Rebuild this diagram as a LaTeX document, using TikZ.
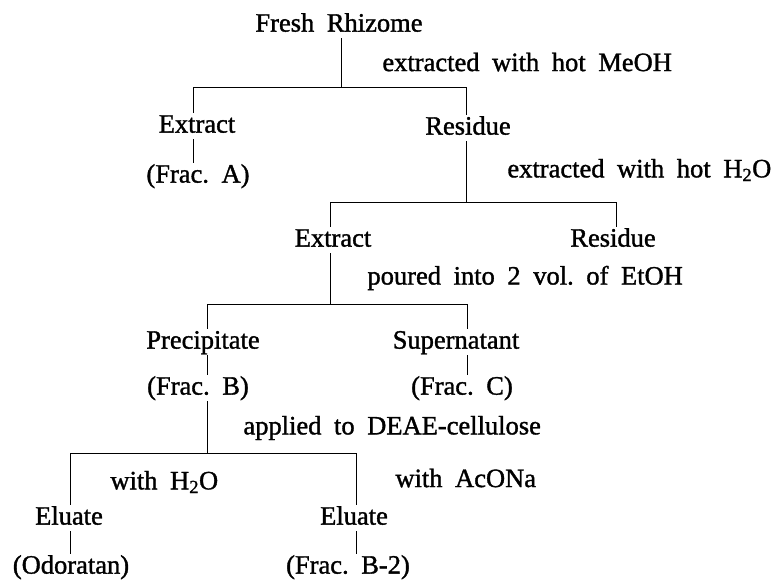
\documentclass[tikz,border=0pt]{standalone}
\usepackage{fontspec}
\setmainfont[WordSpace=1.9, FakeBold=1.3]{Liberation Serif}
\usepackage{tikz}
\usetikzlibrary{positioning}

\begin{document}
\frenchspacing
\begin{tikzpicture}[x=1pt, y=-1pt, line width=0.9pt,
        every node/.style = {font=\fontsize{26.5}{30}\selectfont},
        main/.style = {inner sep=1pt, text height=18.5pt, text depth=5.3pt},
        note/.style = {anchor=west, inner sep=0pt}]
        \useasboundingbox (0,0) rectangle (773,579);

        \node[main] (1) at (339,25) {Fresh Rhizome};
        \node[main] (2) at (197,126) {Extract};
        \node[main] (3) at (468,128) {Residue};
        \node[main] (4) at (198,176) {(Frac. A)};
        \node[main] (5) at (333,240) {Extract};
        \node[main] (6) at (613,240) {Residue};
        \node[main] (7) at (203,342) {Precipitate};
        \node[main] (8) at (456,342) {Supernatant};
        \node[main] (9) at (462,388) {(Frac. C)};
        \node[main] (10) at (198,388) {(Frac. B)};
        \node[main] (11) at (69,518) {Eluate};
        \node[main] (12) at (354,518) {Eluate};
        \node[main] (13) at (71,567) {(Odoratan)};
        \node[main] (14) at (348,567) {(Frac. B-2)};

        \node[note] (t1) at (382,62) {extracted with hot MeOH};
        \node[note] (t2) at (507,170) {extracted with hot H\textsubscript{2}O};
        \node[note] (t3) at (367,278) {poured into 2 vol. of EtOH};
        \node[note] (t4) at (243,428) {applied to DEAE-cellulose};
        \node[note] (t5) at (110,482) {with H\textsubscript{2}O};
        \node[note] (t6) at (395,478) {with AcONa};

        \coordinate (b1) at (341,87);
        \coordinate (b1l) at (193,87);
        \coordinate (b1r) at (466,87);
        \coordinate (b2) at (466,202);
        \coordinate (b2l) at (330,202);
        \coordinate (b2r) at (616,202);
        \coordinate (b3) at (330,304);
        \coordinate (b3l) at (207,304);
        \coordinate (b3r) at (467,304);
        \coordinate (b4) at (207,453);
        \coordinate (b4l) at (70,453);
        \coordinate (b4r) at (356,453);

        \draw (1.south -| b1) -- (b1);
        \draw (b1l |- 2.north) -- (b1l) -- (b1r) -- (b1r |- 3.north);
        \draw (b1l |- 2.south) -- (b1l |- 4.north);

        \draw (b1r |- 3.south) -- (b2);
        \draw (b2l |- 5.north) -- (b2l) -- (b2r) -- (b2r |- 6.north);

        \draw (b2l |- 5.south) -- (b3);
        \draw (b3l |- 7.north) -- (b3l) -- (b3r) -- (b3r |- 8.north);
        \draw (b3l |- 7.south) -- (b3l |- 10.north);
        \draw (b3r |- 8.south) -- (b3r |- 9.north);

        \draw (b3l |- 10.south) -- (b4);
        \draw (b4l |- 11.north) -- (b4l) -- (b4r) -- (b4r |- 12.north);
        \draw (b4l |- 11.south) -- (b4l |- 13.north);
        \draw (b4r |- 12.south) -- (b4r |- 14.north);
    \end{tikzpicture}
\end{document}
